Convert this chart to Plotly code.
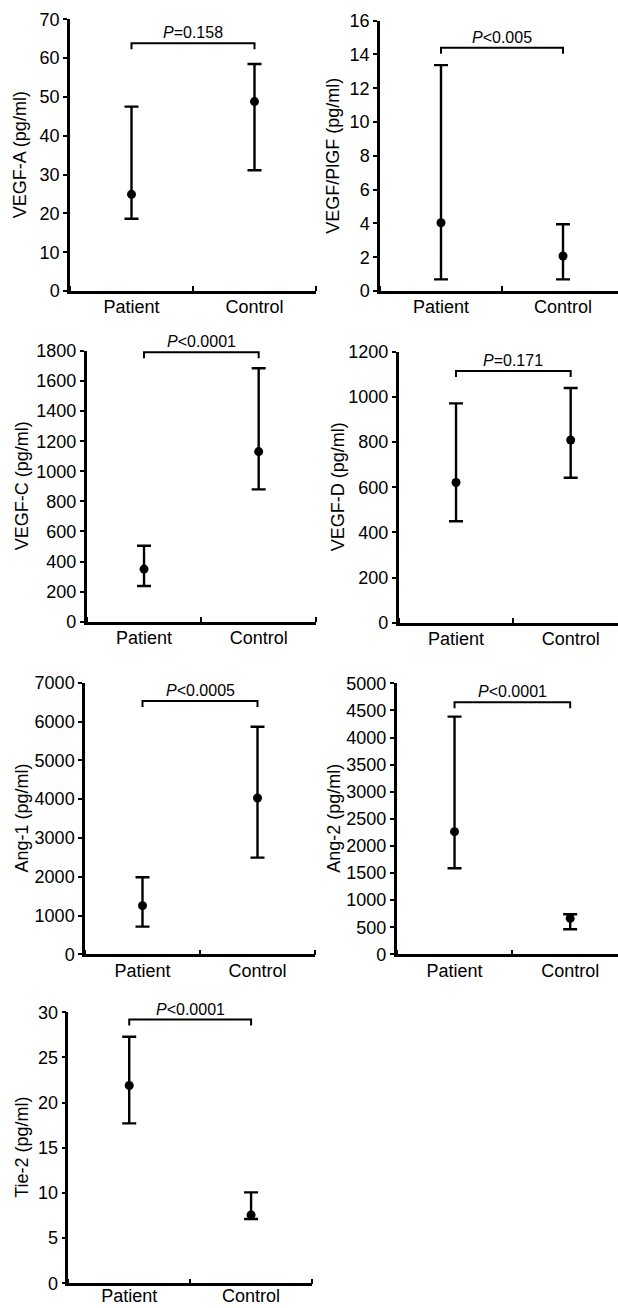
import plotly.graph_objects as go

# ---------------- data ----------------
groups = ["Patient", "Control"]
y_titles = ["VEGF-A (pg/ml)", "VEGF/PlGF (pg/ml)", "VEGF-C (pg/ml)", "VEGF-D (pg/ml)",
            "Ang-1 (pg/ml)", "Ang-2 (pg/ml)", "Tie-2 (pg/ml)"]
means = [[24.9, 48.8], [4.04, 2.07], [350, 1131], [621, 809],
         [1254, 4028], [2263, 664], [21.9, 7.56]]
lows = [[18.6, 31.1], [0.69, 0.69], [237, 880], [449, 642],
        [713, 2491], [1587, 461], [17.7, 7.12]]
highs = [[47.5, 58.5], [13.37, 3.95], [505, 1685], [971, 1039],
         [1984, 5866], [4385, 738], [27.3, 10.07]]
p_texts = ["<i>P</i>=0.158", "<i>P</i>&lt;0.005", "<i>P</i>&lt;0.0001", "<i>P</i>=0.171",
           "<i>P</i>&lt;0.0005", "<i>P</i>&lt;0.0001", "<i>P</i>&lt;0.0001"]
bracket_y = [63.8, 14.4, 1791, 1114, 6528, 4649, 29.2]
y_max = [70, 16, 1800, 1200, 7000, 5000, 30]
y_dtick = [10, 2, 200, 200, 1000, 500, 5]

# ---------------- layout geometry (px) ----------------
W, H = 618, 1308
boxes = [(70, 316, 19.3, 291), (380, 624, 20.7, 291),
         (86.7, 316, 351, 621.7), (398.7, 628, 351.7, 622.7),
         (85, 315, 682.7, 954.3), (396.7, 628, 683.3, 954.3),
         (68.3, 312, 1012.3, 1283.3)]
title_x = [20, 333, 22, 338, 21, 334, 22]
label_standoff = [-2, -2, -2, -2, -2, -2, -6]

FONT = "Liberation Sans, Arial, Helvetica, sans-serif"
fig = go.Figure()
annotations = []
shapes = []
cat_x = [0.5, 1.5]

for i in range(7):
    n = "" if i == 0 else str(i + 1)
    xref, yref = "x" + n, "y" + n
    left, right, top, bottom = boxes[i]
    r_clip = min(right, W)
    xmax = 2 * (r_clip - left) / (right - left)
    dom_x = [left / W, r_clip / W]
    dom_y = [1 - bottom / H, 1 - top / H]

    m = means[i]
    err_p = [highs[i][k] - m[k] for k in range(2)]
    err_m = [m[k] - lows[i][k] for k in range(2)]
    fig.add_trace(go.Scatter(
        x=cat_x, y=m, mode="markers", xaxis=xref, yaxis=yref,
        marker=dict(color="black", size=9, symbol="circle"),
        error_y=dict(type="data", symmetric=False, array=err_p, arrayminus=err_m,
                     color="black", thickness=2.4, width=7),
        showlegend=False, cliponaxis=False, hoverinfo="skip"))

    fig.layout["xaxis" + n] = dict(
        domain=dom_x, range=[0, xmax], anchor=yref, automargin=False,
        showline=True, linecolor="black", linewidth=2.5,
        showgrid=False, zeroline=False,
        tickmode="array", tickvals=cat_x, ticktext=groups, ticks="",
        ticklabelstandoff=label_standoff[i],
        tickfont=dict(family=FONT, size=18, color="black"),
        minor=dict(tickmode="array", tickvals=[0, 1, 2], ticks="inside",
                   ticklen=5, tickwidth=2, tickcolor="black"),
        fixedrange=True)
    fig.layout["yaxis" + n] = dict(
        domain=dom_y, range=[0, y_max[i]], anchor=xref, automargin=False,
        showline=True, linecolor="black", linewidth=2.5,
        showgrid=False, zeroline=False,
        tick0=0, dtick=y_dtick[i], ticks="outside", ticklen=4, tickwidth=2,
        tickcolor="black",
        tickfont=dict(family=FONT, size=18, color="black"),
        fixedrange=True)

    # bracket
    plot_h = bottom - top
    drop = 6 / plot_h * y_max[i]
    b = bracket_y[i]
    shapes.append(dict(type="path", xref=xref, yref=yref,
                       path=f"M 0.5 {b - drop} L 0.5 {b} L 1.5 {b} L 1.5 {b - drop}",
                       line=dict(color="black", width=2)))
    annotations.append(dict(x=1.0, y=b, xref=xref, yref=yref, text=p_texts[i],
                            showarrow=False, yanchor="bottom", yshift=0,
                            font=dict(family=FONT, size=16, color="black")))
    annotations.append(dict(x=title_x[i] / W, y=(dom_y[0] + dom_y[1]) / 2,
                            xref="paper", yref="paper", text=y_titles[i],
                            textangle=-90, showarrow=False,
                            xanchor="center", yanchor="middle",
                            font=dict(family=FONT, size=18, color="black")))

fig.update_layout(width=W, height=H, margin=dict(l=0, r=0, t=0, b=0, autoexpand=False),
                  paper_bgcolor="white", plot_bgcolor="white",
                  shapes=shapes, annotations=annotations, hovermode=False,
                  font=dict(family=FONT, color="black"))
fig.write_html("out.html", config={"displayModeBar": False},
               post_script="document.body.style.margin='0px';"
                           "document.body.style.overflow='hidden';")
